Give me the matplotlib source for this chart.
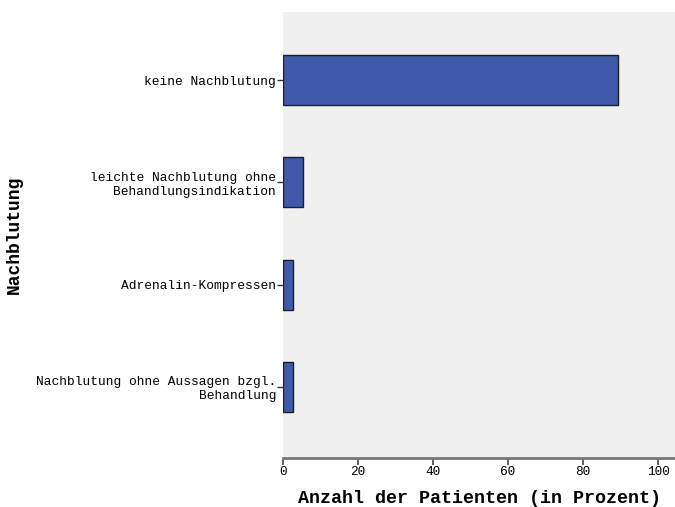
import numpy as np
import matplotlib.pyplot as plt

# Daten
kategorien = ['keine Nachblutung',
              'leichte Nachblutung ohne\nBehandlungsindikation',
              'Adrenalin-Kompressen',
              'Nachblutung ohne Aussagen bzgl.\nBehandlung']
prozent = [89.4, 5.2, 2.7, 2.7]
x_ticks = [0, 20, 40, 60, 80, 100]

plt.rcParams['font.family'] = ['Liberation Mono', 'DejaVu Sans Mono']

fig = plt.figure(figsize=(6.75, 5.07), dpi=100)
ax = fig.add_axes([0.4193, 0.0966, 0.5807, 0.8797])
ax.set_facecolor('#f0f0f0')

y = np.arange(len(kategorien))
ax.barh(y, prozent, height=0.49, color='#3f59ab', edgecolor='#1e1e1e', linewidth=1.0)

ax.set_ylim(len(kategorien) - 1 + 0.7, -0.67)
ax.set_xlim(0, 104.5)
ax.set_yticks(y)
ax.set_yticklabels(kategorien, fontsize=9.3, linespacing=1.2)
ax.set_xticks(x_ticks)
ax.tick_params(axis='x', labelsize=9.2, direction='out', length=5, width=1.2, color='#444444', pad=1)
ax.tick_params(axis='y', length=4, width=1, color='#333333', pad=1)

for s in ['top', 'right', 'left']:
    ax.spines[s].set_visible(False)
ax.spines['bottom'].set_color('#777777')
ax.spines['bottom'].set_linewidth(2)

ax.set_xlabel('Anzahl der Patienten (in Prozent)', fontsize=13.2, fontweight='bold', va='center')
ax.xaxis.set_label_coords(0.501, -0.0897)
ax.set_ylabel('Nachblutung', fontsize=13, fontweight='bold', va='center')
ax.yaxis.set_label_coords(-0.686, 0.5)

fig.savefig('out.png', dpi=100)
